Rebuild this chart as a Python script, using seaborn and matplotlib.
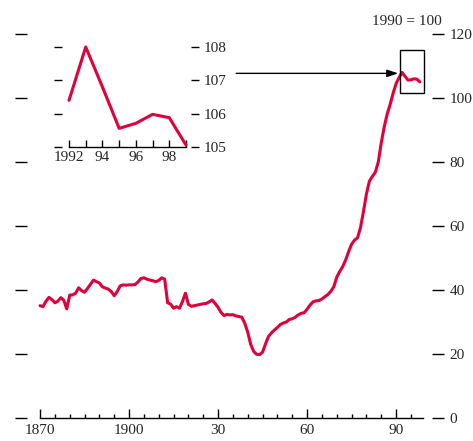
import numpy as np
import pandas as pd
import matplotlib
matplotlib.use("Agg")
import matplotlib.pyplot as plt
import seaborn as sns
from matplotlib.patches import Rectangle
from matplotlib.ticker import FixedLocator

# ---------------- data ----------------
values = [
    35.1, 34.8, 36.5, 37.7, 37.0, 36.0, 36.5, 37.6, 36.8, 34.1,   # 1870s
    38.4, 38.5, 39.0, 40.7, 39.8, 39.3, 40.5, 41.8, 43.1, 42.6,   # 1880s
    42.2, 41.0, 40.6, 40.3, 39.5, 38.2, 39.5, 41.3, 41.6, 41.5,   # 1890s
    41.6, 41.6, 41.7, 42.5, 43.6, 43.8, 43.4, 43.1, 42.9, 42.6,   # 1900s
    43.0, 43.8, 43.4, 36.0, 35.6, 34.3, 34.8, 34.3, 36.4, 39.0,   # 1910s
    35.5, 34.9, 35.1, 35.3, 35.5, 35.7, 35.8, 36.3, 36.9, 35.8,   # 1920s
    34.6, 33.0, 32.0, 32.4, 32.2, 32.3, 31.9, 31.7, 31.5, 29.6,   # 1930s
    26.8, 23.0, 20.8, 19.9, 19.8, 20.6, 23.2, 25.5, 26.6, 27.5,   # 1940s
    28.3, 29.2, 29.7, 30.0, 30.8, 31.0, 31.5, 32.2, 32.7, 32.9,   # 1950s
    34.0, 35.3, 36.3, 36.6, 36.7, 37.2, 37.9, 38.6, 39.6, 41.0,   # 1960s
    44.0, 45.8, 47.3, 49.4, 52.0, 54.3, 55.6, 56.3, 59.5, 64.5,   # 1970s
    70.0, 74.0, 75.5, 76.8, 80.0, 86.0, 91.0, 95.0, 98.0, 101.5,  # 1980s
    104.5, 106.4, 108.0, 106.8, 105.6, 105.7, 106.0, 105.9, 105.05,  # 1990s
]
years = list(range(1870, 1870 + len(values)))

inset_years = [1992, 1993, 1994, 1995, 1996, 1997, 1998, 1999]
inset_values = [106.4, 108.0, 106.8, 105.56, 105.71, 105.98, 105.88, 105.06]

main_yticks = [0, 20, 40, 60, 80, 100, 120]
main_xticks = [1870, 1900, 1930, 1960, 1990]
main_xlabels = ["1870", "1900", "30", "60", "90"]
inset_yticks = [105, 106, 107, 108]
inset_xticks = [1992, 1994, 1996, 1998]
inset_xlabels = ["1992", "94", "96", "98"]

df_main = pd.DataFrame({"year": years, "value": values})
df_inset = pd.DataFrame({"year": inset_years, "value": inset_values})

# ---------------- style ----------------
sns.set_style("white")
plt.rcParams["font.family"] = ["Liberation Serif", "DejaVu Serif"]
plt.rcParams["font.size"] = 11

RED = "#E0003C"
W, H = 473, 441
fig = plt.figure(figsize=(W / 100, H / 100), dpi=100)

def fx(px):
    return px / W

def fy(py):
    return (H - py) / H

# main axes
ax = fig.add_axes([fx(27), fy(418), fx(432) - fx(27), fy(34) - fy(418)])
sns.lineplot(data=df_main, x="year", y="value", ax=ax, color=RED, lw=2.2,
             legend=False)
ax.set_xlim(1865.6, 2002.1)
ax.set_ylim(0, 120)
ax.set_xlabel("")
ax.set_ylabel("")
for s in ["top", "left", "right"]:
    ax.spines[s].set_visible(False)
ax.spines["bottom"].set_bounds(1870, 1999)
ax.spines["bottom"].set_linewidth(1.0)
ax.spines["bottom"].set_color("black")

ax.set_yticks(main_yticks)
ax.set_yticklabels([str(v) for v in main_yticks])
ax.tick_params(axis="y", left=True, right=True, labelleft=False,
               labelright=True, direction="out", length=8.6, width=1.0,
               color="black", pad=4, labelsize=11)
ax.xaxis.set_major_locator(FixedLocator(main_xticks))
ax.set_xticklabels(main_xlabels)
ax.xaxis.set_minor_locator(FixedLocator([y for y in range(1875, 2000, 5)
                                         if y not in main_xticks]))
ax.tick_params(axis="x", which="major", bottom=True, direction="in",
               length=6.5, width=1.0, color="black", pad=4, labelsize=11)
ax.tick_params(axis="x", which="minor", bottom=True, direction="in",
               length=3.0, width=1.0, color="black")

# box around the 1990s and arrow
ax.add_patch(Rectangle((1991.3, 101.7), 8.0, 13.3, fill=False,
                       edgecolor="black", lw=1.0, zorder=3))
ax.annotate("", xy=(1990.7, 107.7), xytext=(1936.1, 107.7),
            arrowprops=dict(arrowstyle="-|>,head_length=0.6,head_width=0.2",
                            color="black", lw=1.0, shrinkA=0, shrinkB=0))
ax.text(1993.6, 124.0, "1990 = 100", ha="center", va="center",
        fontsize=11, clip_on=False)

# inset axes
axi = fig.add_axes([fx(62), fy(147), fx(191) - fx(62), fy(47) - fy(147)])
sns.lineplot(data=df_inset, x="year", y="value", ax=axi, color=RED, lw=2.2,
             legend=False)
axi.set_xlim(1991.58, 1999.3)
axi.set_ylim(105, 108)
axi.set_xlabel("")
axi.set_ylabel("")
axi.patch.set_alpha(0)
for s in ["top", "left", "right"]:
    axi.spines[s].set_visible(False)
axi.spines["bottom"].set_bounds(1992, 1999)
axi.spines["bottom"].set_linewidth(1.0)
axi.spines["bottom"].set_color("black")
axi.set_yticks(inset_yticks)
axi.set_yticklabels([str(v) for v in inset_yticks])
axi.tick_params(axis="y", left=True, right=True, labelleft=False,
                labelright=True, direction="out", length=5.8, width=1.0,
                color="black", pad=3, labelsize=11)
axi.xaxis.set_major_locator(FixedLocator(inset_xticks))
axi.set_xticklabels(inset_xlabels)
axi.xaxis.set_minor_locator(FixedLocator([1993, 1995, 1997, 1999]))
axi.tick_params(axis="x", which="both", bottom=True, direction="in",
                length=5.0, width=1.0, color="black", pad=3, labelsize=11)
for ln in axi.get_lines():
    ln.set_clip_on(False)

fig.savefig("out.png", dpi=100)
